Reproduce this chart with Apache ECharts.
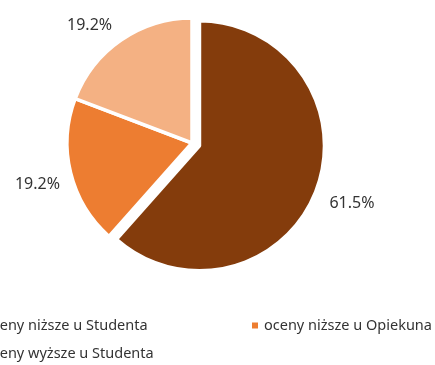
<!DOCTYPE html>
<html>
<head>
<meta charset="utf-8">
<script src="https://cdn.jsdelivr.net/npm/echarts@6/dist/echarts.min.js"></script>
<style>
  html, body { margin: 0; padding: 0; background: #ffffff; }
  #chart { width: 435px; height: 365px; }
</style>
</head>
<body>
<div id="chart"></div>
<script>
// Grade comparison shares (percent)
const categories = ['oceny niższe u Studenta', 'oceny niższe u Opiekuna', 'oceny wyższe u Studenta'];
const shares = [61.5, 19.2, 19.2];
const colors = ['#843C0C', '#ED7D31', '#F4B183'];

// Small nudges for the outside percentage labels
const labelNudge = [[-5, 8], [8, 8], [4, -3]];

const chart = echarts.init(document.getElementById('chart'), null, { renderer: 'canvas' });

const fontFamily = '"Noto Sans", "Open Sans", sans-serif';
const legendText = { fontFamily: fontFamily, fontSize: 14.5, color: '#333333' };

function legendFor(name, left, top) {
  return {
    data: [name],
    left: left,
    top: top,
    icon: 'rect',
    itemWidth: 8,
    itemHeight: 8,
    itemGap: 0,
    padding: 0,
    textStyle: legendText,
    selectedMode: false
  };
}

chart.setOption({
  animation: false,
  color: colors,
  legend: [
    legendFor(categories[0], -30, 318),
    legendFor(categories[1], 250, 318),
    legendFor(categories[2], -30, 346)
  ],
  series: [{
    type: 'pie',
    center: [192, 143],
    radius: 125,
    startAngle: 90,
    clockwise: true,
    selectedMode: 'single',
    selectedOffset: 8,
    itemStyle: { borderColor: '#ffffff', borderWidth: 3.5 },
    label: {
      show: true,
      position: 'outside',
      formatter: p => p.value.toFixed(1) + '%',
      fontFamily: fontFamily,
      fontSize: 16,
      color: '#333333',
      overflow: 'none'
    },
    labelLine: { show: false, length: 14, length2: 0 },
    labelLayout: params => ({
      dx: labelNudge[params.dataIndex][0],
      dy: labelNudge[params.dataIndex][1]
    }),
    emphasis: { disabled: true },
    data: categories.map((name, i) => ({
      name: name,
      value: shares[i],
      selected: i === 0
    }))
  }]
});
</script>
</body>
</html>
